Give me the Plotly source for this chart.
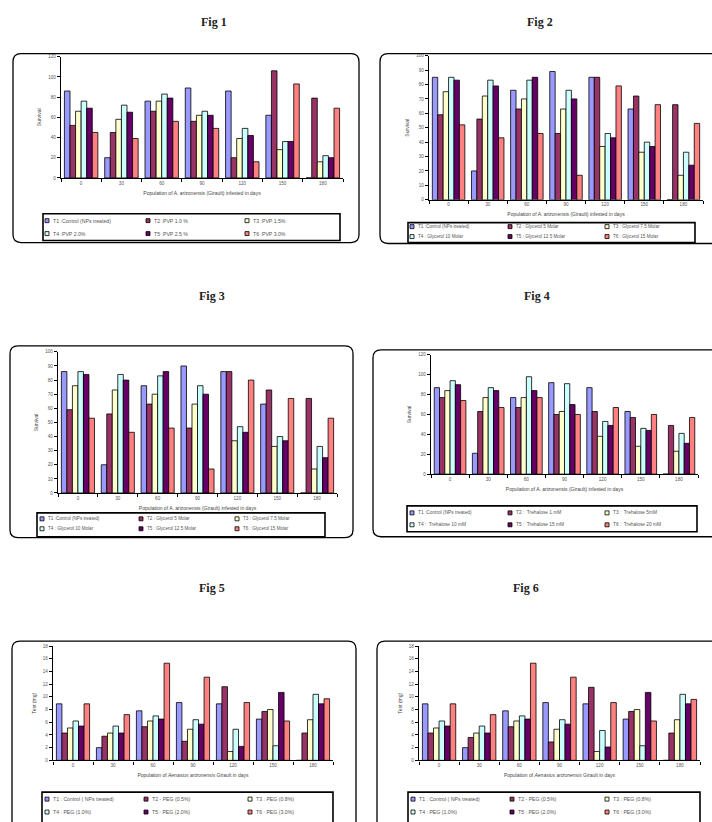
import plotly.graph_objects as go

# ---------------- data ----------------
days = ["0", "30", "60", "90", "120", "150", "180"]
treatments = ["T1", "T2", "T3", "T4", "T5", "T6"]
colors = ["#9999FF", "#993366", "#FFFFCC", "#CCFFFF", "#660066", "#FF8080"]

fig1_values = [
    [86, 20, 76, 89, 86, 62, 0],
    [52, 45, 66, 56, 20, 106, 79],
    [66, 58, 76, 62, 39, 28, 16],
    [76, 72, 83, 66, 49, 36, 22],
    [69, 65, 79, 62, 42, 36, 20],
    [45, 39, 56, 49, 16, 93, 69],
]
fig2_values = [
    [85, 20, 76, 89, 85, 63, 0],
    [59, 56, 63, 46, 85, 72, 66],
    [75, 72, 70, 63, 37, 33, 17],
    [85, 83, 83, 76, 46, 40, 33],
    [83, 79, 85, 70, 43, 37, 24],
    [52, 43, 46, 17, 79, 66, 53],
]
fig3_values = [
    [86, 20, 76, 90, 86, 63, 0],
    [59, 56, 63, 46, 86, 73, 67],
    [76, 73, 70, 63, 37, 33, 17],
    [86, 84, 83, 76, 47, 40, 33],
    [84, 80, 86, 70, 43, 37, 25],
    [53, 43, 46, 17, 80, 67, 53],
]
fig4_values = [
    [87, 21, 77, 92, 87, 63, 0],
    [77, 63, 67, 60, 63, 57, 49],
    [84, 77, 77, 63, 38, 28, 23],
    [94, 87, 98, 91, 53, 46, 41],
    [90, 84, 84, 70, 49, 44, 31],
    [74, 67, 77, 60, 67, 60, 57],
]
fig5_values = [
    [8.9, 2.0, 7.8, 9.1, 8.9, 6.5, 0],
    [4.3, 3.8, 5.3, 3.0, 11.6, 7.7, 4.3],
    [5.1, 4.3, 6.2, 4.9, 1.4, 8.0, 6.4],
    [6.2, 5.4, 7.0, 6.4, 4.9, 2.3, 10.4],
    [5.4, 4.3, 6.5, 5.7, 2.2, 10.7, 8.9],
    [8.9, 7.2, 15.3, 13.1, 9.1, 6.2, 9.7],
]
fig6_values = [
    [8.9, 2.0, 7.8, 9.1, 8.9, 6.5, 0],
    [4.3, 3.6, 5.3, 2.9, 11.5, 7.7, 4.3],
    [5.1, 4.3, 6.2, 4.9, 1.4, 8.0, 6.4],
    [6.2, 5.4, 7.0, 6.4, 4.7, 2.3, 10.4],
    [5.4, 4.3, 6.5, 5.7, 2.1, 10.7, 8.9],
    [8.9, 7.2, 15.3, 13.1, 9.1, 6.2, 9.6],
]

legend_pvp = ["T1 :Control (NPs treated)", "T2 :PVP 1.0 %", "T3 :PVP 1.5%",
              "T4 :PVP 2.0%", "T5 :PVP 2.5 %", "T6 :PVP 3.0%"]
legend_gly = ["T1 :Control (NPs treated)", "T2 : Glycerol 5 Molar", "T3 : Glycerol 7.5 Molar",
              "T4 : Glycerol 10 Molar", "T5 : Glycerol 12.5 Molar", "T6 : Glycerol 15 Molar"]
legend_tre = ["T1 :Control (NPs treated)", "T2 :  Trehalose 1 mM", "T3 :  Trehalose 5mM",
              "T4 :  Trehalose 10 mM", "T5 :  Trehalose 15 mM", "T6 :  Trehalose 20 mM"]
legend_peg = ["T1 : Control ( NPs treated)", "T2 - PEG (0.5%)", "T3 : PEG (0.8%)",
              "T4 : PEG (1.0%)", "T5 : PEG (2.0%)", "T6 : PEG (3.0%)"]

xtitle_a = "Population of A. arizonensis (Girault) infested in days"
xtitle_b = "Population of <i>Aenasius arizonensis</i> Girault in days"
ytitle_a = "Survival"
ytitle_b = "Test (mg)"

# ---------------- layout helpers ----------------
W, H = 712, 822


def px(x):
    return x / W


def py(y):
    return 1 - y / H


panels = [
    dict(title="Fig 1", tpos=(214, 20), vals=fig1_values, legend=legend_pvp, yrange=[0, 120], dtick=20,
         dom=(61, 343, 55, 177), box=(13, 359, 52, 242), lbox=(43, 340, 213, 240),
         lcols=(47, 148, 247), lrows=(220, 233), xt=xtitle_a, yt=ytitle_a, lfs=5.2),
    dict(title="Fig 2", tpos=(540, 20), vals=fig2_values, legend=legend_gly, yrange=[0, 100], dtick=10,
         dom=(429, 703, 54, 199), box=(380, 725, 52, 243), lbox=(408, 695, 222, 242),
         lcols=(412, 510, 607), lrows=(226, 236), xt=xtitle_a, yt=ytitle_a, lfs=4.6),
    dict(title="Fig 3", tpos=(212, 296), vals=fig3_values, legend=legend_gly, yrange=[0, 100], dtick=10,
         dom=(58, 337, 352, 494), box=(10, 353, 346, 539), lbox=(37, 325, 514, 538),
         lcols=(42, 141, 237), lrows=(520, 530), xt=xtitle_a, yt=ytitle_a, lfs=4.6),
    dict(title="Fig 4", tpos=(537, 296), vals=fig4_values, legend=legend_tre, yrange=[0, 120], dtick=20,
         dom=(431, 698, 355, 475), box=(373, 725, 350, 538), lbox=(407, 697, 507, 533),
         lcols=(412, 510, 607), lrows=(514, 526), xt=xtitle_a, yt=ytitle_a, lfs=4.8),
    dict(title="Fig 5", tpos=(212, 590), vals=fig5_values, legend=legend_peg, yrange=[0, 18], dtick=2,
         dom=(53, 333, 648, 763), box=(12, 356, 643, 840), lbox=(42, 333, 795, 840),
         lcols=(47, 146, 250), lrows=(802, 815), xt=xtitle_b, yt=ytitle_b, lfs=5.2),
    dict(title="Fig 6", tpos=(526, 590), vals=fig6_values, legend=legend_peg, yrange=[0, 18], dtick=2,
         dom=(419, 700, 648, 763), box=(377, 725, 643, 840), lbox=(408, 700, 795, 840),
         lcols=(413, 512, 607), lrows=(802, 815), xt=xtitle_b, yt=ytitle_b, lfs=5.2),
]

fig = go.Figure()
shapes = []
annotations = []
axis_font = dict(family="Liberation Sans", size=4.6, color="#555555")

for i, p in enumerate(panels):
    n = "" if i == 0 else str(i + 1)
    xa, ya = "x" + n, "y" + n
    for t, name in enumerate(treatments):
        fig.add_trace(go.Bar(
            x=days, y=p["vals"][t], name=name, xaxis=xa, yaxis=ya,
            marker=dict(color=colors[t], line=dict(color="black", width=0.8)),
            showlegend=False,
        ))
    x0, x1, y0, y1 = p["dom"]
    fig.update_layout(**{
        "xaxis" + n: dict(domain=[px(x0), px(x1)], anchor=ya, type="category",
                          showline=True, linecolor="black", linewidth=1.3,
                          ticks="outside", ticklen=3, tickcolor="black", tickson="boundaries",
                          tickfont=axis_font, showgrid=False, zeroline=False,
                          title=dict(text=p["xt"], font=dict(family="Liberation Sans", size=5, color="#444444"),
                                     standoff=6)),
        "yaxis" + n: dict(domain=[py(y1), py(y0)], anchor=xa, range=p["yrange"], dtick=p["dtick"],
                          showline=True, linecolor="black", linewidth=1.3,
                          ticks="outside", ticklen=3, tickcolor="black",
                          tickfont=axis_font, showgrid=False, zeroline=False,
                          title=dict(text=p["yt"], font=dict(family="Liberation Sans", size=5, color="#444444"),
                                     standoff=6)),
    })
    # figure title
    annotations.append(dict(text="<b>" + p["title"] + "</b>", x=px(p["tpos"][0]), y=py(p["tpos"][1]),
                            xref="paper", yref="paper", showarrow=False, xanchor="center", yanchor="middle",
                            font=dict(family="Liberation Serif", size=12, color="#222222")))
    # rounded outer box
    bx0, bx1, by0, by1 = p["box"]
    r = 8
    path = (f"M {px(bx0 + r)},{py(by0)} L {px(bx1 - r)},{py(by0)} "
            f"Q {px(bx1)},{py(by0)} {px(bx1)},{py(by0 + r)} L {px(bx1)},{py(by1 - r)} "
            f"Q {px(bx1)},{py(by1)} {px(bx1 - r)},{py(by1)} L {px(bx0 + r)},{py(by1)} "
            f"Q {px(bx0)},{py(by1)} {px(bx0)},{py(by1 - r)} L {px(bx0)},{py(by0 + r)} "
            f"Q {px(bx0)},{py(by0)} {px(bx0 + r)},{py(by0)} Z")
    shapes.append(dict(type="path", path=path, xref="paper", yref="paper",
                       line=dict(color="black", width=1.3)))
    # legend box
    lx0, lx1, ly0, ly1 = p["lbox"]
    shapes.append(dict(type="rect", xref="paper", yref="paper", x0=px(lx0), x1=px(lx1), y0=py(ly1), y1=py(ly0),
                       line=dict(color="black", width=1.6), fillcolor="white"))
    for t, label in enumerate(p["legend"]):
        cx = p["lcols"][t % 3]
        cy = p["lrows"][t // 3]
        shapes.append(dict(type="rect", xref="paper", yref="paper",
                           x0=px(cx - 2), x1=px(cx + 2), y0=py(cy + 2), y1=py(cy - 2),
                           line=dict(color="black", width=0.8), fillcolor=colors[t]))
        annotations.append(dict(text=label, x=px(cx + 4), y=py(cy), xref="paper", yref="paper",
                                showarrow=False, xanchor="left", yanchor="middle",
                                font=dict(family="Liberation Sans", size=p["lfs"], color="#555555")))

fig.update_layout(
    width=W, height=H, margin=dict(l=0, r=0, t=0, b=0),
    paper_bgcolor="white", plot_bgcolor="white",
    barmode="group", bargap=0.17, bargroupgap=0,
    shapes=shapes, annotations=annotations,
)

fig.write_html("out.html", config={"displayModeBar": False},
               post_script="document.body.style.margin='0';document.body.style.overflow='hidden';")
